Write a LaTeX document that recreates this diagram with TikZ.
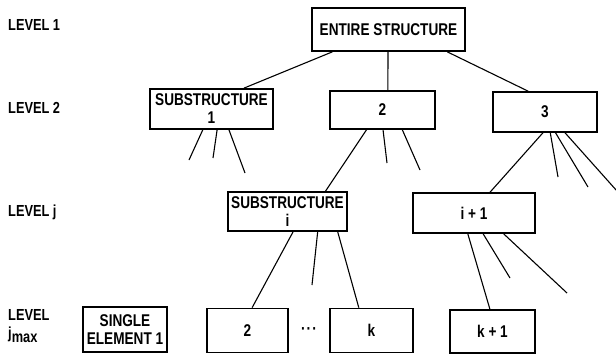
\documentclass[tikz,border=0pt]{standalone}
\usepackage{fontspec}
\setmainfont{Liberation Sans}[FakeStretch=0.8]
\usetikzlibrary{calc}
\tikzset{
  box/.style={draw, line width=1.7pt, inner sep=0pt, align=center,
    font=\fontsize{17}{18}\selectfont\bfseries},
  conn/.style={line width=1.1pt},
  lvl/.style={anchor=west, inner sep=0pt, align=left,
    font=\fontsize{16}{18}\selectfont\bfseries},
}
\newcommand\subx[1]{\raisebox{-0.55ex}{#1}}
\begin{document}
\begin{tikzpicture}[x=1pt,y=-1pt]
\useasboundingbox (0,0) rectangle (616,354);
% level labels
\node[lvl] (L1) at (8,25) {LEVEL 1};
\node[lvl] (L2) at (8,108) {LEVEL 2};
\node[lvl] (Lj) at (8,212) {LEVEL j};
\node[lvl] (Lm) at (8,326) {LEVEL\\j\subx{max}};
% boxes
\node[box, minimum width=153pt, minimum height=43pt] (E) at (388.5,29.5) {ENTIRE STRUCTURE};
\node[box, minimum width=123pt, minimum height=40pt] (S1) at (211.5,109) {SUBSTRUCTURE\\1};
\node[box, minimum width=105pt, minimum height=38pt] (B2) at (382.5,110) {2};
\node[box, minimum width=104pt, minimum height=40pt] (B3) at (545,112) {3};
\node[box, minimum width=119pt, minimum height=39pt] (Si) at (287.5,211.5) {SUBSTRUCTURE\\i};
\node[box, minimum width=122pt, minimum height=40pt] (Bi) at (474,213) {i + 1};
\node[box, minimum width=84pt, minimum height=45pt] (SE) at (125,329.5) {SINGLE\\ELEMENT 1};
\node[box, minimum width=81pt, minimum height=44pt] (J2) at (247.5,330.5) {2};
\node[box, minimum width=83pt, minimum height=44pt] (Jk) at (371.5,330.5) {k};
\node[box, minimum width=85pt, minimum height=43pt] (Jk1) at (492.5,331.5) {k + 1};
\node[font=\fontsize{17}{18}\selectfont\bfseries, inner sep=0pt] (dots) at (309,331) {\char"00B7\kern1pt\char"00B7\kern1pt\char"00B7};
% free ends
\coordinate (s1a) at (189,160);
\coordinate (s1b) at (213,158);
\coordinate (s1c) at (245,173);
\coordinate (b2a) at (387,163);
\coordinate (b2b) at (420,170);
\coordinate (b3a) at (558,177);
\coordinate (b3b) at (588,187);
\coordinate (b3c) at (617,191);
\coordinate (sia) at (312,285);
\coordinate (bia) at (510,278);
\coordinate (bib) at (567,293);
% connectors level 1 -> 2
\draw[conn] ($(E.south west)!0.137!(E.south east)$) -- ($(S1.north west)!0.76!(S1.north east)$);
\draw[conn] ($(E.south west)!0.497!(E.south east)$) -- ($(B2.north west)!0.55!(B2.north east)$);
\draw[conn] ($(E.south west)!0.88!(E.south east)$) -- ($(B3.north west)!0.34!(B3.north east)$);
% substructure 1 stubs
\draw[conn] ($(S1.south west)!0.43!(S1.south east)$) -- (s1a);
\draw[conn] ($(S1.south west)!0.545!(S1.south east)$) -- (s1b);
\draw[conn] ($(S1.south west)!0.64!(S1.south east)$) -- (s1c);
% box 2
\draw[conn] ($(B2.south west)!0.35!(B2.south east)$) -- ($(Si.north west)!0.815!(Si.north east)$);
\draw[conn] ($(B2.south west)!0.505!(B2.south east)$) -- (b2a);
\draw[conn] ($(B2.south west)!0.686!(B2.south east)$) -- (b2b);
% box 3
\draw[conn] ($(B3.south west)!0.48!(B3.south east)$) -- ($(Bi.north west)!0.63!(Bi.north east)$);
\draw[conn] ($(B3.south west)!0.55!(B3.south east)$) -- (b3a);
\draw[conn] ($(B3.south west)!0.6!(B3.south east)$) -- (b3b);
\draw[conn] ($(B3.south west)!0.69!(B3.south east)$) -- (b3c);
% substructure i
\draw[conn] ($(Si.south west)!0.546!(Si.south east)$) -- ($(J2.north west)!0.556!(J2.north east)$);
\draw[conn] ($(Si.south west)!0.75!(Si.south east)$) -- (sia);
\draw[conn] ($(Si.south west)!0.916!(Si.south east)$) -- ($(Jk.north west)!0.35!(Jk.north east)$);
% i+1
\draw[conn] ($(Bi.south west)!0.45!(Bi.south east)$) -- ($(Jk1.north west)!0.47!(Jk1.north east)$);
\draw[conn] ($(Bi.south west)!0.574!(Bi.south east)$) -- (bia);
\draw[conn] ($(Bi.south west)!0.74!(Bi.south east)$) -- (bib);
\end{tikzpicture}
\end{document}
